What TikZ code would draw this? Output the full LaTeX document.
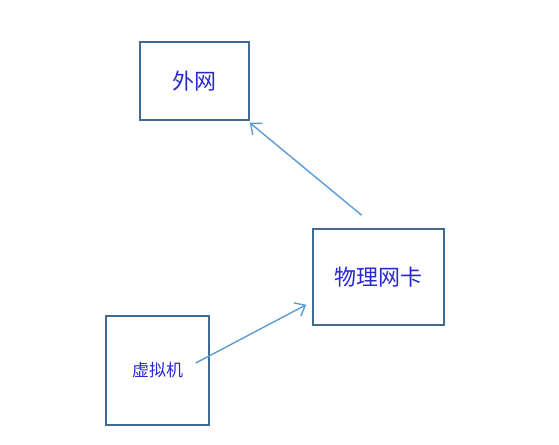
\documentclass[tikz,border=0pt]{standalone}
\usepackage{fontspec}
\newfontfamily\cjk{Noto Sans CJK SC}
\usetikzlibrary{arrows.meta,positioning}

\definecolor{boxline}{RGB}{65,105,145}
\definecolor{arrline}{RGB}{91,155,213}
\definecolor{boxtext}{RGB}{40,40,210}

\begin{document}
\begin{tikzpicture}[
  x=1pt, y=-1pt,
  every node/.style={font=\cjk\fontsize{22}{26}\selectfont, text=boxtext},
  box/.style={draw=boxline, line width=1.5pt, inner sep=0pt},
  arr/.style={draw=arrline, line width=1.4pt, -{Straight Barb[length=9pt, width=15pt]}}
]
\useasboundingbox (0,0) rectangle (559,444);

% Nodes
\node (net) [box, minimum width=109pt, minimum height=78pt] at (194.5,81) {外网};
\node (nic) [box, minimum width=131pt, minimum height=96pt] at (378.5,277) {物理网卡};
\node (vm)  [box, minimum width=103pt, minimum height=109pt,
             font=\cjk\fontsize{17}{20}\selectfont] at (157.5,370.5) {虚拟机};

% Arrows
\draw[arr] ([xshift=-14pt, yshift=7.5pt]vm.east) -- ([xshift=-6pt, yshift=21pt]nic.south west);
\draw[arr] ([xshift=49.5pt, yshift=13pt]nic.north west) -- ([yshift=-2pt]net.south east);

\end{tikzpicture}
\end{document}
